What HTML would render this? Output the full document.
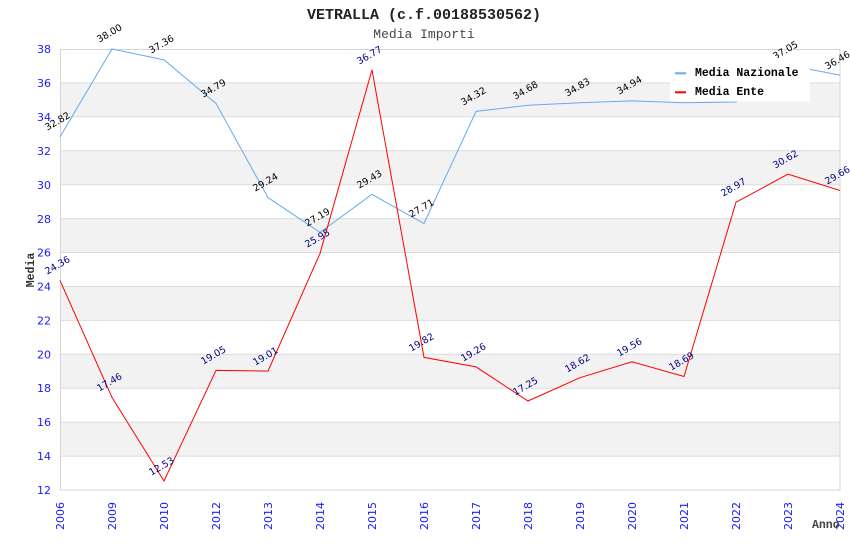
<!DOCTYPE html>
<html><head><meta charset="utf-8"><style>
html,body{margin:0;padding:0;background:#fff;}
svg{display:block;}
</style></head><body>
<svg width="850" height="550" viewBox="0 0 850 550" xmlns="http://www.w3.org/2000/svg">
<rect x="0" y="0" width="850" height="550" fill="#fff"/>
<!-- bands -->
<g fill="#f2f2f2">
<rect x="60" y="82.9" width="780" height="33.9"/>
<rect x="60" y="150.8" width="780" height="33.9"/>
<rect x="60" y="218.6" width="780" height="33.9"/>
<rect x="60" y="286.5" width="780" height="33.9"/>
<rect x="60" y="354.3" width="780" height="33.9"/>
<rect x="60" y="422.2" width="780" height="33.9"/>
</g>
<g stroke="#dcdcdc" stroke-width="1">
<line x1="60" x2="840" y1="82.9" y2="82.9"/>
<line x1="60" x2="840" y1="116.8" y2="116.8"/>
<line x1="60" x2="840" y1="150.8" y2="150.8"/>
<line x1="60" x2="840" y1="184.7" y2="184.7"/>
<line x1="60" x2="840" y1="218.6" y2="218.6"/>
<line x1="60" x2="840" y1="252.5" y2="252.5"/>
<line x1="60" x2="840" y1="286.5" y2="286.5"/>
<line x1="60" x2="840" y1="320.4" y2="320.4"/>
<line x1="60" x2="840" y1="354.3" y2="354.3"/>
<line x1="60" x2="840" y1="388.2" y2="388.2"/>
<line x1="60" x2="840" y1="422.2" y2="422.2"/>
<line x1="60" x2="840" y1="456.1" y2="456.1"/>
</g>
<rect x="60.5" y="49.5" width="779.5" height="440.5" fill="none" stroke="#d4d4d4" stroke-width="1"/>
<!-- y ticks -->
<g font-family="DejaVu Sans, Liberation Sans, sans-serif" font-size="11" fill="#1a1aff" text-anchor="end">
<text x="51" y="53">38</text>
<text x="51" y="87">36</text>
<text x="51" y="121">34</text>
<text x="51" y="155">32</text>
<text x="51" y="189">30</text>
<text x="51" y="223">28</text>
<text x="51" y="256.5">26</text>
<text x="51" y="290.5">24</text>
<text x="51" y="324.5">22</text>
<text x="51" y="358.5">20</text>
<text x="51" y="392">18</text>
<text x="51" y="426">16</text>
<text x="51" y="460">14</text>
<text x="51" y="494">12</text>
</g>
<!-- x ticks -->
<g font-family="DejaVu Sans, Liberation Sans, sans-serif" font-size="11" fill="#1a1aff" text-anchor="end">
<text transform="translate(64,502) rotate(-90)">2006</text>
<text transform="translate(116,502) rotate(-90)">2009</text>
<text transform="translate(168,502) rotate(-90)">2010</text>
<text transform="translate(220,502) rotate(-90)">2012</text>
<text transform="translate(272,502) rotate(-90)">2013</text>
<text transform="translate(324,502) rotate(-90)">2014</text>
<text transform="translate(376,502) rotate(-90)">2015</text>
<text transform="translate(428,502) rotate(-90)">2016</text>
<text transform="translate(480,502) rotate(-90)">2017</text>
<text transform="translate(532,502) rotate(-90)">2018</text>
<text transform="translate(584,502) rotate(-90)">2019</text>
<text transform="translate(636,502) rotate(-90)">2020</text>
<text transform="translate(688,502) rotate(-90)">2021</text>
<text transform="translate(740,502) rotate(-90)">2022</text>
<text transform="translate(792,502) rotate(-90)">2023</text>
<text transform="translate(844,502) rotate(-90)">2024</text>
</g>
<!-- titles -->
<text x="424" y="19" text-anchor="middle" font-family="Liberation Mono, DejaVu Sans Mono, monospace" font-weight="bold" font-size="15" fill="#222">VETRALLA (c.f.00188530562)</text>
<text x="424" y="38" text-anchor="middle" font-family="Liberation Mono, DejaVu Sans Mono, monospace" font-size="13" fill="#444">Media Importi</text>
<text transform="translate(34,270) rotate(-90)" text-anchor="middle" font-family="Liberation Mono, DejaVu Sans Mono, monospace" font-weight="bold" font-size="11.5" fill="#333">Media</text>
<text x="812" y="528" font-family="Liberation Mono, DejaVu Sans Mono, monospace" font-weight="bold" font-size="11.5" fill="#444">Anno</text>
<!-- series -->
<polyline fill="none" stroke="#66aaee" stroke-width="1" points="60,136.9 112,49 164,59.9 216,103.5 268,197.6 320,232.4 372,194.4 424,223.5 476,111.4 528,105.3 580,102.8 632,100.9 684,102.7 736,102 788,65.1 840,75.1"/>
<polyline fill="none" stroke="#ff0000" stroke-width="1" points="60,280.4 112,397.4 164,481 216,370.4 268,371.1 320,253.4 372,69.9 424,357.4 476,366.9 528,401 580,377.7 632,361.8 684,376.5 736,202.2 788,174.2 840,190.5"/>
<!-- labels -->
<g font-family="DejaVu Sans, Liberation Sans, sans-serif" font-size="9.5" fill="#000" text-anchor="middle">
<text transform="translate(59,124) rotate(-30)">32.82</text>
<text transform="translate(111,36) rotate(-30)">38.00</text>
<text transform="translate(163,47) rotate(-30)">37.36</text>
<text transform="translate(215,91) rotate(-30)">34.79</text>
<text transform="translate(267,185) rotate(-30)">29.24</text>
<text transform="translate(319,220) rotate(-30)">27.19</text>
<text transform="translate(371,182) rotate(-30)">29.43</text>
<text transform="translate(423,211) rotate(-30)">27.71</text>
<text transform="translate(475,99) rotate(-30)">34.32</text>
<text transform="translate(527,93) rotate(-30)">34.68</text>
<text transform="translate(579,90) rotate(-30)">34.83</text>
<text transform="translate(631,88) rotate(-30)">34.94</text>
<text transform="translate(787,53) rotate(-30)">37.05</text>
<text transform="translate(839,63) rotate(-30)">36.46</text>
</g>
<g font-family="DejaVu Sans, Liberation Sans, sans-serif" font-size="9.5" fill="#000080" text-anchor="middle">
<text transform="translate(59,268) rotate(-30)">24.36</text>
<text transform="translate(111,385) rotate(-30)">17.46</text>
<text transform="translate(163,469) rotate(-30)">12.53</text>
<text transform="translate(215,358) rotate(-30)">19.05</text>
<text transform="translate(267,359) rotate(-30)">19.01</text>
<text transform="translate(319,241) rotate(-30)">25.95</text>
<text transform="translate(371,58) rotate(-30)">36.77</text>
<text transform="translate(423,345) rotate(-30)">19.82</text>
<text transform="translate(475,355) rotate(-30)">19.26</text>
<text transform="translate(527,389) rotate(-30)">17.25</text>
<text transform="translate(579,366) rotate(-30)">18.62</text>
<text transform="translate(631,350) rotate(-30)">19.56</text>
<text transform="translate(683,364) rotate(-30)">18.69</text>
<text transform="translate(735,190) rotate(-30)">28.97</text>
<text transform="translate(787,162) rotate(-30)">30.62</text>
<text transform="translate(839,178) rotate(-30)">29.66</text>
</g>
<!-- legend -->
<rect x="670" y="58" width="140" height="43.5" fill="#fff"/>
<rect x="675" y="72.3" width="11" height="2" fill="#66aaee"/>
<rect x="675" y="91.3" width="11" height="2" fill="#ff0000"/>
<g font-family="Liberation Mono, DejaVu Sans Mono, monospace" font-weight="bold" font-size="11.5" fill="#000">
<text x="695" y="76">Media Nazionale</text>
<text x="695" y="95">Media Ente</text>
</g>
</svg>
</body></html>
